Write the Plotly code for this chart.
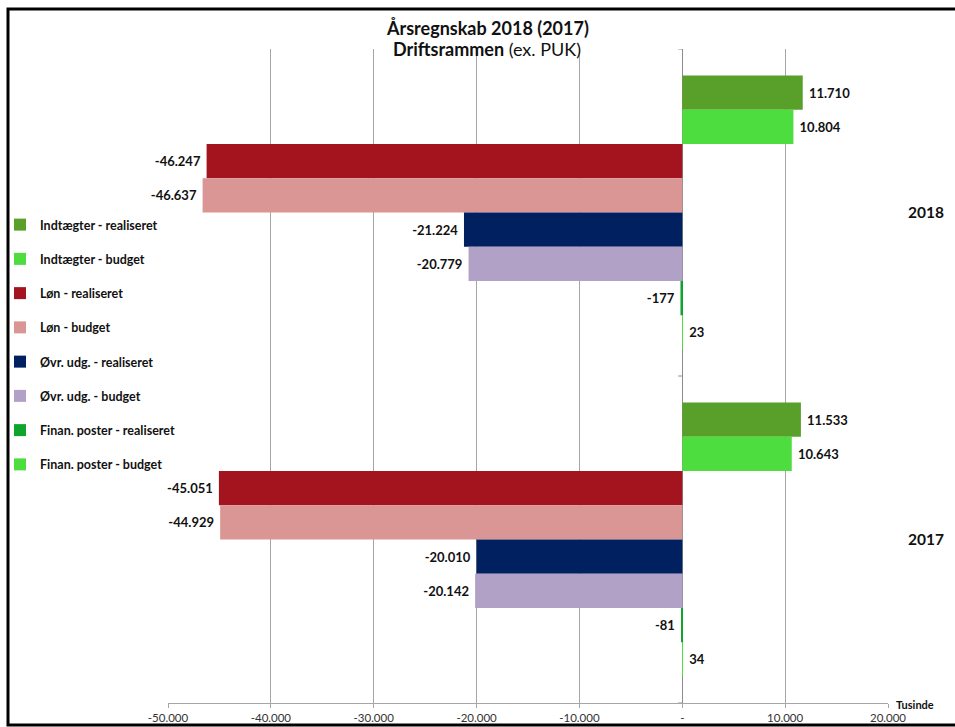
import plotly.graph_objects as go

years = ["2018", "2017"]
series_names = [
    "Indtægter - realiseret", "Indtægter - budget",
    "Løn - realiseret", "Løn - budget",
    "Øvr. udg. - realiseret", "Øvr. udg. - budget",
    "Finan. poster - realiseret", "Finan. poster - budget",
]
indt_real = [11710, 11533]
indt_budget = [10804, 10643]
loen_real = [-46247, -45051]
loen_budget = [-46637, -44929]
oevr_real = [-21224, -20010]
oevr_budget = [-20779, -20142]
finan_real = [-177, -81]
finan_budget = [23, 34]
series_values = [indt_real, indt_budget, loen_real, loen_budget,
                 oevr_real, oevr_budget, finan_real, finan_budget]
colors = ["#58A02A", "#4EDD3E", "#A3141F", "#D99694",
          "#002060", "#B2A1C7", "#0DA52B", "#4EDD3E"]
x_tickvals = [-50000, -40000, -30000, -20000, -10000, 0, 10000, 20000]
x_ticktext = ["-50.000", "-40.000", "-30.000", "-20.000", "-10.000", "-", "10.000", "20.000"]

FONT = "Lato"
NB = "\u00a0"

def fmt(v):
    s = f"{v:,}".replace(",", ".")
    return (NB + s) if v >= 0 else (s + NB)

fig = go.Figure()
for i, (name, vals, col) in enumerate(zip(series_names, series_values, colors)):
    fig.add_trace(go.Bar(
        y=years, x=vals, name=name, orientation="h",
        marker=dict(color=col, line=dict(width=0)),
        text=[fmt(v) for v in vals], textposition="outside",
        textfont=dict(family=FONT, size=13, color="#111111", weight="bold"),
        cliponaxis=False, legendgroup=f"g{i}",
    ))

W, H = 955, 727
L, R, T, B = 168, 67, 49, 24
pw, ph = W - L - R, H - T - B

def px(x):
    return (x - L) / pw

def py(y):
    return (H - B - y) / ph

shapes = []
# category boundary ticks on the y axis at zero
for yb in [-0.5, 0.5, 1.5]:
    shapes.append(dict(type="line", xref="x", yref="y", x0=-400, x1=0, y0=yb, y1=yb,
                       line=dict(color="#8c8c8c", width=1)))
# outer frame
shapes.append(dict(type="rect", xref="paper", yref="paper",
                   x0=px(8), x1=px(958), y0=py(725), y1=py(9),
                   line=dict(color="black", width=3), layer="above"))

fig.update_layout(
    width=W, height=H,
    margin=dict(l=L, r=R, t=T, b=B, autoexpand=False),
    paper_bgcolor="white", plot_bgcolor="white",
    barmode="group", bargap=0.162, bargroupgap=0,
    font=dict(family=FONT, color="#111111"),
    showlegend=True,
    legend=dict(x=px(0), y=py(210), xanchor="left", yanchor="top",
                bgcolor="rgba(0,0,0,0)", tracegroupgap=15,
                font=dict(family=FONT, size=12.5, color="#111111", weight="bold"),
                itemwidth=30),
    xaxis=dict(range=[-50000, 20000], tickvals=x_tickvals, ticktext=x_ticktext,
               showgrid=True, gridcolor="#a6a6a6", gridwidth=1,
               zeroline=True, zerolinecolor="#8c8c8c", zerolinewidth=1,
               showline=True, linecolor="#a6a6a6", linewidth=1,
               ticks="outside", ticklen=4, tickcolor="#a6a6a6",
               tickfont=dict(family=FONT, size=11.5, color="#333333"),
               fixedrange=True),
    yaxis=dict(type="category", categoryarray=years, range=[1.5, -0.5],
               side="right", showgrid=False, zeroline=False, showline=False,
               ticks="", ticklabelstandoff=19,
               tickfont=dict(family=FONT, size=15.5, color="#111111", weight="bold")),
    shapes=shapes,
    annotations=[
        dict(text="<b>Årsregnskab 2018 (2017)</b>", xref="paper", yref="paper",
             x=px(487), y=py(28), xanchor="center", yanchor="middle", showarrow=False,
             font=dict(family=FONT, size=18, color="#111111")),
        dict(text="<b>Driftsrammen</b> (ex. PUK)", xref="paper", yref="paper",
             x=px(487), y=py(49), xanchor="center", yanchor="middle", showarrow=False,
             font=dict(family=FONT, size=18, color="#111111")),
        dict(text="<b>Tusinde</b>", xref="paper", yref="paper",
             x=px(915), y=py(705), xanchor="center", yanchor="middle", showarrow=False,
             font=dict(family=FONT, size=11, color="#111111")),
    ],
)

fig.write_html("out.html", config={"displayModeBar": False},
               post_script="document.body.style.margin='0';document.body.style.overflow='hidden';")
